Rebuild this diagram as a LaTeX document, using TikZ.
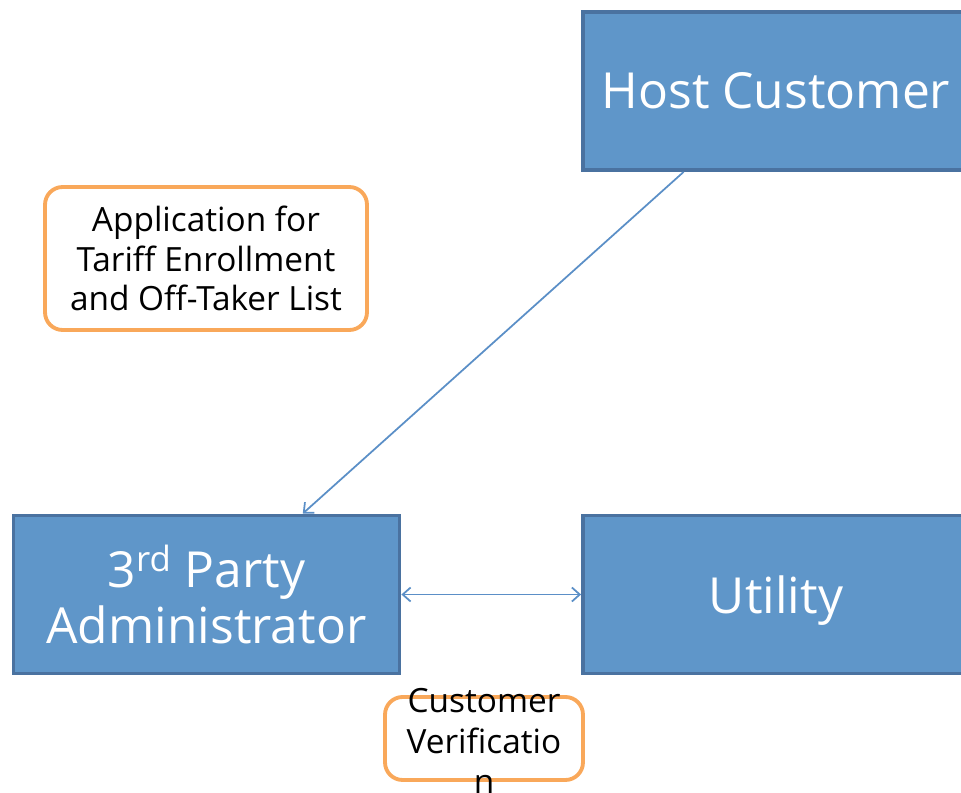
\documentclass[tikz,border=0pt]{standalone}
\usepackage{fontspec}
\setmainfont{Open Sans}
\usetikzlibrary{calc,arrows.meta}

\definecolor{boxfill}{HTML}{5F96C9}
\definecolor{boxline}{HTML}{4A72A0}
\definecolor{noteline}{HTML}{F9A85A}
\definecolor{flow}{HTML}{5B8FC7}

\tikzset{
  party/.style={draw=boxline, fill=boxfill, line width=2.2pt, minimum width=7.72cm,
    minimum height=3.16cm, text=white, align=center, inner sep=0pt,
    font=\fontsize{28.3}{31.7}\selectfont},
  note/.style={draw=noteline, line width=2.2pt, rounded corners=10pt, align=center,
    inner sep=0pt, font=\fontsize{19}{22.7}\selectfont},
  flowline/.style={draw=flow, line width=1pt, >={Straight Barb[length=4.5pt,width=8pt]}}
}

\begin{document}
\begin{tikzpicture}[x=0.02cm, y=-0.02cm]
  \useasboundingbox (0,0) rectangle (961,793);
  % boxes
  \node[party] (host) at (776,91) {Host Customer};
  \node[party] (admin) at (206.5,594.5) {3\textsuperscript{rd} Party\\Administrator};
  \node[party, text depth=0pt] (utility) at (776,594.5) {Utility};
  % notes
  \node[note, minimum width=6.44cm, minimum height=2.86cm] (apply) at (206,258.5)
    {Application for\\Tariff Enrollment\\and Off-Taker List};
  \node[note, minimum width=3.96cm, minimum height=1.66cm] (verify) at (484,738.5) {};
  \node[font=\fontsize{19}{23.2}\selectfont, align=center, inner sep=0pt] (verifytext) at (484,741)
    {Customer\\Verificatio\\n};
  % flows
  \draw[flowline, ->] ($(host.south west)!0.263!(host.south east)$) -- ($(admin.north west)!0.747!(admin.north east)$);
  \draw[flowline, <->] (admin.east) -- (utility.west);
\end{tikzpicture}
\end{document}
